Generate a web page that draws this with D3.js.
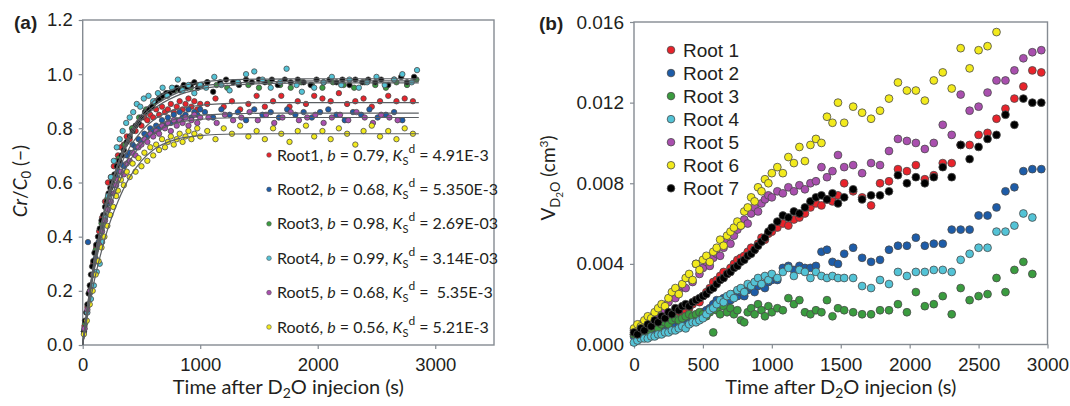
<!DOCTYPE html>
<html>
<head>
<meta charset="utf-8">
<script src="https://cdn.jsdelivr.net/npm/d3@7"></script>
<style>
  body { margin: 0; background: #fff; }
  svg text { font-family: "Liberation Sans", Arial, sans-serif; fill: #231f20; }
  svg text.cal { font-family: Lato, "Open Sans", sans-serif; }
</style>
</head>
<body>
<div id="chart"></div>
<script>
const width = 1070, height = 406;

const colors = ['#e8232b', '#1d5ca8', '#3a9c3f', '#53c3d6', '#a94fae', '#f2ea1c', '#000000'];
const rootNames = ['Root 1', 'Root 2', 'Root 3', 'Root 4', 'Root 5', 'Root 6', 'Root 7'];

// ---- panel (a): Cr/C0 vs time, [t (s), Cr/C0]
const aRoot1 = [[15,0.07],[40,0.14],[65,0.22],[90,0.3],[115,0.36],[140,0.42],[165,0.47],[190,0.53],[215,0.6],[240,0.62],[265,0.66],[285,0.68],
  [300,0.70],[325,0.73],[350,0.74],[375,0.77],[400,0.76],[425,0.80],[450,0.79],[475,0.82],[500,0.81],[525,0.84],[550,0.83],[575,0.85],[600,0.84],[625,0.87],[650,0.85],[675,0.88],[700,0.86],[725,0.87],[750,0.89],[775,0.86],[800,0.88],[825,0.9],[850,0.87],[875,0.89],[900,0.91],[925,0.88],[950,0.9],[975,0.87],[1000,0.89],
  [1060,0.89],[1130,0.91],[1200,0.88],[1270,0.9],[1340,0.87],[1410,0.89],[1480,0.92],[1550,0.88],[1620,0.9],[1690,0.92],[1760,0.88],[1830,0.9],[1900,0.89],[1970,0.92],[2040,0.91],[2110,0.9],[2180,0.93],[2250,0.89],[2320,0.9],[2390,0.91],[2460,0.88],[2530,0.9],[2600,0.92],[2670,0.9],[2740,0.91],[2810,0.9]];
const aRoot2 = [[10,0.05],[35,0.12],[45,0.38],[60,0.19],[85,0.26],[110,0.32],[135,0.38],[160,0.43],[185,0.48],[210,0.52],[235,0.56],[260,0.59],[285,0.62],
  [300,0.64],[325,0.67],[350,0.66],[375,0.70],[400,0.71],[425,0.74],[450,0.73],[475,0.76],[500,0.75],[525,0.78],[550,0.77],[575,0.80],[600,0.79],[625,0.81],[650,0.80],[675,0.83],[700,0.81],[725,0.84],[750,0.82],[775,0.85],[800,0.83],[825,0.86],[850,0.84],[875,0.85],[900,0.87],[925,0.84],[950,0.86],[975,0.85],[1000,0.87],
  [1040,0.86],[1110,0.84],[1180,0.87],[1250,0.85],[1320,0.86],[1390,0.83],[1460,0.87],[1530,0.85],[1600,0.86],[1670,0.84],[1740,0.87],[1810,0.85],[1880,0.86],[1950,0.84],[2020,0.86],[2090,0.87],[2160,0.85],[2230,0.83],[2300,0.86],[2370,0.85],[2440,0.87],[2510,0.84],[2580,0.85],[2650,0.86],[2720,0.83]];
const aRoot3 = [[20,0.08],[60,0.2],[110,0.35],[160,0.45],[210,0.54],[260,0.62],[310,0.69],[360,0.74],[420,0.8],[480,0.84],[540,0.87],[600,0.89],[660,0.91],[720,0.93],[780,0.94],[850,0.95],[920,0.95],[990,0.96],
  [1060,0.97],[1140,0.96],[1230,0.95],[1320,0.97],[1410,0.96],[1500,0.95],[1590,0.97],[1680,0.96],[1770,0.95],[1860,0.97],[1950,0.96],[2040,0.95],[2130,0.97],[2220,0.96],[2310,0.95],[2400,0.97],[2490,0.96],[2580,0.95],[2670,0.97],[2760,0.96],[2840,0.98]];
const aRoot4 = [[15,0.06],[40,0.12],[70,0.17],[95,0.22],[120,0.27],[145,0.30],[165,0.38],[190,0.47],[215,0.55],[240,0.62],[265,0.68],[290,0.73],[315,0.76],[340,0.79],[370,0.82],[400,0.84],[430,0.86],[460,0.89],[490,0.88],[520,0.91],[560,0.92],[600,0.90],[640,0.93],[680,0.95],[720,0.92],[760,0.95],[810,0.98],[850,0.94],[900,0.96],[950,0.93],[1000,0.96],
  [1050,0.95],[1120,0.99],[1180,0.96],[1250,0.94],[1320,0.97],[1390,1.00],[1460,1.01],[1530,0.98],[1600,0.95],[1680,0.97],[1735,1.02],[1820,0.96],[1865,0.935],[1970,0.95],[2050,0.97],[2120,0.99],[2200,0.96],[2270,0.98],[2350,0.95],[2420,0.97],[2500,0.99],[2570,0.96],[2650,0.98],[2720,1.00],[2800,0.97],[2845,1.015]];
const aRoot5 = [[15,0.06],[40,0.13],[65,0.2],[90,0.26],[115,0.31],[140,0.37],[165,0.42],[190,0.46],[215,0.5],[240,0.53],[265,0.56],[285,0.59],
  [300,0.61],[325,0.64],[350,0.63],[375,0.67],[400,0.68],[425,0.71],[450,0.70],[475,0.73],[500,0.74],[525,0.76],[550,0.75],[575,0.78],[600,0.77],[625,0.79],[650,0.78],[675,0.81],[700,0.80],[725,0.82],[750,0.79],[775,0.83],[800,0.81],[825,0.83],[850,0.82],[875,0.84],[900,0.81],[925,0.83],[950,0.85],[975,0.82],[1000,0.84],
  [1070,0.84],[1140,0.82],[1210,0.85],[1280,0.83],[1350,0.84],[1420,0.86],[1490,0.83],[1560,0.85],[1630,0.82],[1700,0.84],[1770,0.86],[1840,0.83],[1910,0.84],[1980,0.85],[2050,0.82],[2120,0.84],[2190,0.85],[2260,0.83],[2330,0.86],[2400,0.84],[2470,0.82],[2540,0.85],[2610,0.84],[2680,0.83]];
const aRoot6 = [[10,0.04],[35,0.09],[60,0.15],[85,0.2],[110,0.26],[135,0.31],[160,0.36],[185,0.4],[210,0.44],[235,0.48],[260,0.51],[285,0.55],
  [300,0.57],[325,0.61],[350,0.59],[375,0.64],[400,0.62],[425,0.67],[450,0.64],[475,0.69],[500,0.66],[525,0.71],[550,0.68],[575,0.73],[600,0.70],[625,0.74],[650,0.72],[675,0.76],[700,0.73],[725,0.75],[750,0.77],[775,0.74],[800,0.76],[825,0.78],[850,0.75],[875,0.77],[900,0.79],[925,0.76],[950,0.78],[975,0.80],[1000,0.77],
  [1060,0.79],[1130,0.76],[1200,0.8],[1270,0.78],[1340,0.81],[1410,0.77],[1480,0.79],[1550,0.76],[1620,0.8],[1690,0.78],[1760,0.75],[1830,0.79],[1900,0.81],[1970,0.77],[2040,0.79],[2110,0.76],[2180,0.8],[2250,0.78],[2320,0.74],[2390,0.79],[2460,0.81],[2530,0.77],[2600,0.79],[2670,0.76],[2740,0.8],[2810,0.78]];
const aRoot7 = [[10,0.05],[20,0.09],[30,0.12],[40,0.15],[50,0.19],[60,0.22],[70,0.26],[80,0.29],[90,0.31],[100,0.34],[115,0.37],[130,0.40],[145,0.43],[160,0.46],[175,0.48],[190,0.51],[205,0.53],[220,0.56],[235,0.58],[250,0.60],[270,0.63],[290,0.66],[310,0.68],[330,0.70],[350,0.72],[375,0.75],[400,0.77],[425,0.79],[450,0.81],[475,0.82],[500,0.84],[530,0.86],[560,0.87],[590,0.88],[620,0.90],[650,0.91],[680,0.92],[710,0.93],[740,0.93],[770,0.94],[800,0.95],[830,0.94],[860,0.96],[890,0.95],[920,0.96],[950,0.97],[980,0.95],[1010,0.96],
  [1060,0.97],[1110,0.935],[1170,0.97],[1220,0.98],[1280,0.97],[1330,0.96],[1390,0.98],[1440,0.97],[1500,0.98],[1550,0.97],[1610,0.98],[1660,0.96],[1720,0.98],[1770,0.97],[1830,0.98],[1880,0.97],[1940,0.96],[1990,0.98],[2050,0.97],[2100,0.98],[2160,0.97],[2210,0.98],[2270,0.96],[2320,0.98],[2380,0.97],[2430,0.98],[2490,0.97],[2540,0.98],[2600,0.96],[2650,0.98],[2710,0.99],[2760,0.97],[2820,0.99]];
const aSeries = [aRoot1, aRoot2, aRoot3, aRoot7, aRoot4, aRoot5, aRoot6];
const aColors = [colors[0], colors[1], colors[2], colors[6], colors[3], colors[4], colors[5]];

// fitted curves in (a)
const fitT = [0, 50, 100, 150, 200, 300, 400, 500, 600, 800, 1000, 1300, 1600, 2000, 2860];
const fitRoot1 = [0, 0.17, 0.31, 0.42, 0.51, 0.64, 0.73, 0.79, 0.83, 0.87, 0.885, 0.893, 0.895, 0.895, 0.895];
const fitRoot2 = [0, 0.16, 0.29, 0.39, 0.48, 0.61, 0.70, 0.76, 0.80, 0.835, 0.848, 0.854, 0.856, 0.856, 0.856];
const fitRoot3 = [0, 0.17, 0.31, 0.42, 0.52, 0.66, 0.76, 0.83, 0.87, 0.92, 0.945, 0.96, 0.966, 0.968, 0.968];
const fitRoot4 = [0, 0.16, 0.30, 0.42, 0.52, 0.67, 0.78, 0.85, 0.90, 0.95, 0.97, 0.98, 0.982, 0.983, 0.983];
const fitRoot5 = [0, 0.15, 0.28, 0.38, 0.46, 0.59, 0.68, 0.74, 0.78, 0.82, 0.833, 0.839, 0.84, 0.84, 0.84];
const fitRoot6 = [0, 0.13, 0.24, 0.33, 0.41, 0.53, 0.62, 0.68, 0.72, 0.76, 0.773, 0.779, 0.78, 0.78, 0.78];
const fitRoot7 = [0, 0.17, 0.32, 0.43, 0.53, 0.67, 0.77, 0.84, 0.88, 0.93, 0.955, 0.968, 0.972, 0.975, 0.975];
const fits = [fitRoot1, fitRoot2, fitRoot3, fitRoot4, fitRoot5, fitRoot6, fitRoot7];

const legendA = ['Root1', 'Root2', 'Root3', 'Root4', 'Root5', 'Root6'];
const legendB = ['0.79', '0.68', '0.98', '0.99', '0.68', '0.56'];
const legendKs = ['4.91E-3', '5.350E-3', '2.69E-03', '3.14E-03', '\u00a05.35E-3', '5.21E-3'];

const xTicksA = [0, 1000, 2000, 3000];
const yTicksA = [0, 0.2, 0.4, 0.6, 0.8, 1.0, 1.2];

// ---- panel (b): V_D2O vs time, values in 1e-3 cm3
const timeB = [0,25,50,75,100,125,150,175,200,225,250,275,300,325,350,375,400,425,450,475,500,525,550,575,600,625,650,675,700,725,750,775,800,825,850,875,900,925,950,975,1000,
  1040,1080,1120,1160,1200,1240,1280,1320,1360,1400,1440,1480,
  1525,1590,1655,1720,1785,1850,1915,1980,2045,2110,2175,2240,2305,2370,2435,2500,2565,2630,2695,2760,2825,2890,2955];
const bRoot1 = [0.5,0.6,0.7,0.6,0.8,0.9,0.9,1.0,1.1,1.2,1.2,1.3,1.4,1.5,1.6,1.7,1.8,2.0,2.2,2.1,2.4,2.6,2.8,3.1,3.2,3.4,3.6,3.5,3.8,4.0,4.2,4.3,4.4,4.6,4.8,4.7,5.0,5.3,5.2,5.5,5.6,
  5.8,6.0,5.9,6.2,6.3,6.5,6.8,7.0,6.9,7.2,7.1,7.4,
  8.0,7.6,7.3,6.9,8.0,8.1,8.7,8.6,8.9,8.2,8.4,9.0,9.0,9.9,9.9,10.4,10.5,11.2,11.7,12.2,12.8,13.6,13.5];
const bRoot2 = [0.4,0.5,0.4,0.6,0.6,0.5,0.7,0.8,0.7,0.9,0.8,1.0,1.0,1.1,1.2,1.1,1.3,1.4,1.3,1.5,1.6,1.7,1.8,2.0,2.2,2.0,2.3,1.9,2.2,2.5,2.4,2.6,2.4,2.7,2.8,2.6,2.9,3.0,2.8,3.1,3.2,
  3.2,3.8,3.9,3.7,3.9,3.8,3.8,3.9,4.6,4.7,4.1,4.0,
  4.5,4.8,4.3,4.1,4.2,4.7,4.9,4.9,5.3,4.9,5.0,5.0,5.7,5.7,5.7,6.4,6.4,6.8,7.6,7.8,8.6,8.7,8.7];
const bRoot3 = [0.5,0.6,0.5,0.7,0.6,0.8,0.9,0.8,1.0,1.1,1.0,1.2,1.3,1.2,1.3,1.4,1.5,1.4,1.5,1.6,1.5,1.4,1.6,0.6,1.7,1.5,1.9,1.6,1.8,1.5,1.7,1.2,1.1,1.6,1.8,1.5,2.0,1.7,1.4,1.9,1.6,
  1.8,1.7,2.3,2.0,2.2,1.6,1.5,1.7,1.6,2.2,1.4,1.8,
  1.7,1.6,1.5,1.5,1.7,1.7,2.0,1.6,2.6,1.9,2.0,2.4,1.5,2.8,2.2,2.4,2.5,3.3,2.6,3.7,4.1,3.5];
const bRoot4 = [0.1,0.2,0.3,0.3,0.3,0.4,0.4,0.5,0.5,0.6,0.6,0.7,0.7,0.8,0.9,0.8,1.0,1.1,1.1,1.2,1.3,1.5,1.7,1.8,2.0,2.2,2.1,2.4,2.5,2.3,2.7,2.8,2.6,3.0,2.9,3.1,3.3,3.0,3.4,3.2,3.5,
  3.3,3.6,3.8,3.4,3.7,3.6,3.3,3.6,3.4,3.3,3.4,3.3,
  3.3,3.3,2.9,2.8,3.2,3.0,3.6,3.4,3.6,3.6,3.7,3.7,3.6,4.2,4.5,4.8,4.8,5.6,5.6,5.9,6.5,6.3];
const bRoot5 = [0.7,0.8,1.0,0.9,1.2,1.3,1.5,1.4,1.8,1.7,2.1,2.4,2.3,2.7,2.9,2.8,3.3,3.1,4.0,3.5,3.8,4.1,3.9,4.3,4.5,4.4,4.8,5.1,5.0,5.4,5.7,5.9,6.2,6.0,6.5,6.8,6.6,7.0,7.2,7.4,7.3,
  7.6,7.5,7.8,7.6,7.9,7.7,8.0,8.1,8.8,8.3,8.6,9.4,
  8.8,8.9,8.5,9.0,8.9,9.6,10.2,10.1,10.0,9.7,10.0,10.9,10.4,12.4,11.6,11.8,12.5,13.1,13.1,13.6,14.2,14.5,14.6];
const bRoot6 = [0.8,1.0,0.9,1.2,1.4,1.3,1.6,1.8,2.0,1.9,2.3,2.6,2.8,2.5,3.0,3.3,3.5,3.2,4.0,3.7,4.2,4.4,4.1,4.6,4.8,5.2,4.9,5.4,5.6,5.8,6.1,5.9,6.6,6.8,7.3,7.1,7.8,7.6,8.2,8.0,8.5,
  8.8,8.5,9.3,9.0,9.8,9.1,9.9,10.2,10.0,11.3,11.0,12.0,
  11.0,11.8,11.5,11.2,11.6,12.2,13.0,12.6,12.6,12.1,13.1,13.5,12.7,14.7,13.7,14.6,14.8,15.5];
const bRoot7 = [0.6,0.5,0.8,0.7,1.0,0.9,1.2,1.1,1.4,1.3,1.6,1.5,1.8,1.7,1.9,2.0,1.9,2.1,2.2,2.3,2.4,2.5,2.7,2.8,3.0,3.2,3.3,3.5,3.6,3.8,3.9,4.1,4.2,4.4,4.5,4.7,4.9,5.1,5.3,5.6,5.8,
  6.1,6.4,6.3,6.6,6.5,6.8,7.1,7.3,7.4,7.2,7.5,7.0,
  7.3,7.7,7.2,7.4,7.4,7.6,8.4,8.0,8.3,8.0,8.3,8.8,8.3,9.9,9.2,9.8,10.2,10.4,11.4,10.9,12.2,12.0,12.0];
const bSeries = [bRoot1, bRoot2, bRoot3, bRoot4, bRoot5, bRoot6, bRoot7];

const xTicksB = [0, 500, 1000, 1500, 2000, 2500, 3000];
const yTicksB = [0, 0.004, 0.008, 0.012, 0.016];

// ---- layout
const xA = d3.scaleLinear().domain([0, 3500]).range([82.7, 494]);
const yA = d3.scaleLinear().domain([0, 1.2]).range([345, 20]);
const xB = d3.scaleLinear().domain([0, 3000]).range([634, 1047.5]);
const yB = d3.scaleLinear().domain([0, 0.016]).range([344.5, 22]);

const svg = d3.select('#chart').append('svg')
  .attr('width', width).attr('height', height)
  .style('background', '#fff');

function frame(x, y) {
  svg.append('rect')
    .attr('x', x.range()[0]).attr('y', y.range()[1])
    .attr('width', x.range()[1] - x.range()[0])
    .attr('height', y.range()[0] - y.range()[1])
    .attr('fill', 'none').attr('stroke', '#858b92').attr('stroke-width', 1.4);
}

function axes(x, y, xt, yt, yfmt, fs) {
  const gx = svg.append('g').attr('transform', `translate(0,${y.range()[0]})`)
    .call(d3.axisBottom(x).tickValues(xt).tickSize(4).tickPadding(9).tickFormat(d3.format('d')));
  const gy = svg.append('g').attr('transform', `translate(${x.range()[0]},0)`)
    .call(d3.axisLeft(y).tickValues(yt).tickSize(4).tickPadding(6).tickFormat(d3.format(yfmt)));
  [gx, gy].forEach(g => {
    g.select('.domain').remove();
    g.selectAll('.tick line').attr('stroke', '#858b92').attr('stroke-width', 1.2);
    g.selectAll('.tick text').attr('fill', '#231f20')
      .style('font-family', '"Liberation Sans", Arial, sans-serif')
      .style('font-size', fs + 'px');
  });
}

function dots(g, data, x, y, color, r) {
  g.append('g').selectAll('circle')
    .data(data).enter().append('circle')
    .attr('cx', d => x(d[0])).attr('cy', d => y(d[1]))
    .attr('r', r)
    .attr('fill', color)
    .attr('stroke', '#4a4a4a').attr('stroke-width', 0.8);
}

// ================= panel (a)
frame(xA, yA);
axes(xA, yA, xTicksA, yTicksA, '.1f', 18.5);

const plotA = svg.append('g');
aSeries.forEach((s, i) => dots(plotA, s, xA, yA, aColors[i], 2.7));

const fitLine = d3.line().x(d => xA(d[0])).y(d => yA(d[1])).curve(d3.curveMonotoneX);
fits.forEach(f => {
  plotA.append('path')
    .attr('d', fitLine(fitT.map((t, j) => [t, f[j]])))
    .attr('fill', 'none').attr('stroke', '#5b5f63').attr('stroke-width', 1.2);
});

// legend (a)
const legA = svg.append('g');
legendA.forEach((name, i) => {
  const cy = 155 + i * 34.4;
  legA.append('circle').attr('cx', 269).attr('cy', cy).attr('r', 2.3)
    .attr('fill', colors[i]).attr('stroke', '#555').attr('stroke-width', 0.6);
  const t = legA.append('text').attr('class', 'cal').attr('x', 277).attr('y', cy + 5.5)
    .style('font-size', '16px');
  t.append('tspan').text(name + ', ');
  t.append('tspan').style('font-style', 'italic').text('b');
  t.append('tspan').text(' = ' + legendB[i] + ', ');
  t.append('tspan').style('font-style', 'italic').text('K');
  t.append('tspan').attr('dy', 4).style('font-size', '11px').text('S');
  t.append('tspan').attr('dy', -12).style('font-size', '12px').text('d');
  t.append('tspan').attr('dy', 8).text(' = ' + legendKs[i]);
});

// titles (a)
svg.append('text').attr('x', 14).attr('y', 29)
  .style('font-size', '19px').style('font-weight', 'bold').text('(a)');

function timeTitle(cx) {
  const t = svg.append('text').attr('class', 'cal').attr('x', cx).attr('y', 394)
    .attr('text-anchor', 'middle').style('font-size', '20px');
  t.append('tspan').text('Time after D');
  t.append('tspan').attr('dy', 4).style('font-size', '14px').text('2');
  t.append('tspan').attr('dy', -4).text('O injecion (s)');
}
timeTitle((xA.range()[0] + xA.range()[1]) / 2);

const ytA = svg.append('text').attr('class', 'cal')
  .attr('transform', 'translate(27,181) rotate(-90)')
  .attr('text-anchor', 'middle').style('font-size', '19px');
ytA.append('tspan').style('font-style', 'italic').text('Cr');
ytA.append('tspan').text('/');
ytA.append('tspan').style('font-style', 'italic').text('C');
ytA.append('tspan').attr('dy', 4).style('font-size', '13px').text('0');
ytA.append('tspan').attr('dy', -4).text(' (\u2212)');

// ================= panel (b)
frame(xB, yB);
axes(xB, yB, xTicksB, yTicksB, '.3f', 19);

const plotB = svg.append('g');
bSeries.forEach((s, i) => {
  const pts = s.map((v, j) => [timeB[j], v / 1000]);
  dots(plotB, pts, xB, yB, colors[i], 3.9);
});

// legend (b)
const legB = svg.append('g');
rootNames.forEach((name, i) => {
  const cy = 50 + i * 23.05;
  legB.append('circle').attr('cx', 671).attr('cy', cy).attr('r', 3.8)
    .attr('fill', colors[i]).attr('stroke', '#4a4a4a').attr('stroke-width', 0.8);
  legB.append('text').attr('x', 683).attr('y', cy + 6.8)
    .style('font-size', '19px').text(name);
});

svg.append('text').attr('x', 539).attr('y', 30)
  .style('font-size', '19px').style('font-weight', 'bold').text('(b)');

timeTitle((xB.range()[0] + xB.range()[1]) / 2);

const ytB = svg.append('text').attr('class', 'cal')
  .attr('transform', 'translate(555,178) rotate(-90)')
  .attr('text-anchor', 'middle').style('font-size', '19px');
ytB.append('tspan').text('V');
ytB.append('tspan').attr('dy', 5).style('font-size', '13px').text('D');
ytB.append('tspan').attr('dy', 3).style('font-size', '10px').text('2');
ytB.append('tspan').attr('dy', -3).style('font-size', '13px').text('O');
ytB.append('tspan').attr('dy', -5).text(' (cm');
ytB.append('tspan').attr('dy', -7).style('font-size', '12px').text('3');
ytB.append('tspan').attr('dy', 7).text(')');
</script>
</body>
</html>
